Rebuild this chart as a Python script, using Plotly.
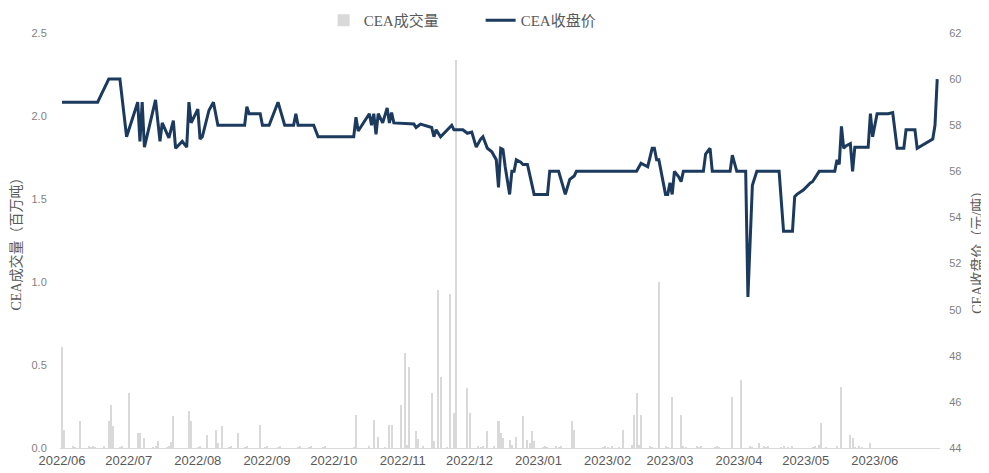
import plotly.graph_objects as go

# ---------------- data ----------------
price_dates = [
    "2022-06-01", "2022-06-17", "2022-06-19", "2022-06-22", "2022-06-27", "2022-06-30",
    "2022-07-05", "2022-07-06", "2022-07-07", "2022-07-08", "2022-07-13", "2022-07-15", "2022-07-16",
    "2022-07-19", "2022-07-21", "2022-07-22", "2022-07-25", "2022-07-27", "2022-07-28", "2022-07-29",
    "2022-08-01", "2022-08-02", "2022-08-03", "2022-08-06", "2022-08-08", "2022-08-10", "2022-08-22",
    "2022-08-23", "2022-08-24", "2022-08-29", "2022-08-30",
    "2022-09-02", "2022-09-06", "2022-09-09", "2022-09-13", "2022-09-14", "2022-09-15", "2022-09-22", "2022-09-24",
    "2022-10-10", "2022-10-11", "2022-10-12", "2022-10-17", "2022-10-18", "2022-10-19", "2022-10-20",
    "2022-10-21", "2022-10-23", "2022-10-25", "2022-10-26", "2022-10-27", "2022-10-28",
    "2022-11-06", "2022-11-07", "2022-11-09", "2022-11-12", "2022-11-14", "2022-11-15", "2022-11-16",
    "2022-11-18", "2022-11-23", "2022-11-24", "2022-11-28", "2022-11-30",
    "2022-12-02", "2022-12-04", "2022-12-06", "2022-12-07", "2022-12-09", "2022-12-11", "2022-12-13",
    "2022-12-14", "2022-12-15", "2022-12-16", "2022-12-17", "2022-12-19", "2022-12-20", "2022-12-21",
    "2022-12-22", "2022-12-24", "2022-12-25", "2022-12-27", "2022-12-30",
    "2023-01-05", "2023-01-06", "2023-01-10", "2023-01-13", "2023-01-15", "2023-01-17", "2023-01-18",
    "2023-02-14", "2023-02-16", "2023-02-17", "2023-02-19", "2023-02-21", "2023-02-22", "2023-02-23",
    "2023-02-24", "2023-02-27", "2023-02-28",
    "2023-03-01", "2023-03-02", "2023-03-03", "2023-03-05", "2023-03-06", "2023-03-07", "2023-03-16",
    "2023-03-17", "2023-03-19", "2023-03-20", "2023-03-28", "2023-03-29", "2023-03-31",
    "2023-04-04", "2023-04-05", "2023-04-07", "2023-04-09", "2023-04-19", "2023-04-21", "2023-04-25",
    "2023-04-26", "2023-04-27", "2023-04-30",
    "2023-05-03", "2023-05-04", "2023-05-07", "2023-05-14", "2023-05-15", "2023-05-16", "2023-05-17",
    "2023-05-18", "2023-05-19", "2023-05-21", "2023-05-22", "2023-05-23", "2023-05-29", "2023-05-30", "2023-05-31",
    "2023-06-02", "2023-06-07", "2023-06-09", "2023-06-11", "2023-06-14", "2023-06-15", "2023-06-19",
    "2023-06-20", "2023-06-27", "2023-06-28", "2023-06-29",
]
price_values = [
    59.0, 59.0, 59.4, 60.0, 60.0, 57.5,
    59.0, 57.3, 59.0, 57.05, 59.1, 57.3, 58.1, 57.45, 58.2, 57.0, 57.3, 57.05, 59.0, 58.1,
    58.7, 57.4, 57.5, 58.65, 59.0, 58.0, 58.0, 58.8, 58.5, 58.5, 58.0,
    58.0, 59.0, 58.0, 58.0, 58.5, 58.0, 58.0, 57.5,
    57.5, 58.35, 57.75, 58.5, 58.0, 58.5, 57.6, 58.5, 58.1, 58.75, 58.1, 58.55, 58.1,
    58.05, 57.9, 58.05, 57.95, 57.9, 57.5, 57.8, 57.5, 58.0, 57.8, 57.8, 57.65,
    57.7, 57.05, 57.4, 57.5, 57.0, 56.85, 56.5, 55.3, 57.0, 56.95, 56.2, 55.0, 56.0, 56.0, 56.5, 56.4, 56.3, 56.3, 55.0,
    55.0, 56.0, 56.0, 55.0, 55.65, 55.8, 56.0,
    56.0, 56.35, 56.3, 56.2, 57.0, 57.0, 56.5, 56.5, 55.0, 55.0,
    55.5, 55.0, 56.0, 55.75, 55.55, 56.0, 56.0, 56.75, 57.0, 56.0, 56.0, 56.7, 56.0,
    56.0, 50.55, 55.4, 56.0, 56.0, 53.4, 53.4, 54.9, 55.0, 55.2,
    55.5, 55.55, 56.0, 56.0, 56.5, 56.3, 57.95, 57.0, 57.1, 57.2, 56.0, 57.05, 57.05, 58.5, 57.5,
    58.5, 58.5, 58.55, 57.0, 57.0, 57.8, 57.8, 57.0, 57.4, 58.0, 60.0,
]

volume_dates = [
    "2022-06-01", "2022-06-02", "2022-06-09", "2022-06-22", "2022-06-23", "2022-06-24",
    "2022-07-01", "2022-07-05", "2022-07-06", "2022-07-08", "2022-07-14", "2022-07-20", "2022-07-21",
    "2022-07-28", "2022-07-29",
    "2022-08-05", "2022-08-09", "2022-08-10", "2022-08-12", "2022-08-19", "2022-08-29",
    "2022-10-11", "2022-10-19", "2022-10-21", "2022-10-26", "2022-10-27", "2022-10-31",
    "2022-11-02", "2022-11-03", "2022-11-04", "2022-11-07", "2022-11-08", "2022-11-14", "2022-11-15",
    "2022-11-17", "2022-11-18", "2022-11-22", "2022-11-24", "2022-11-25", "2022-11-30",
    "2022-12-01", "2022-12-07", "2022-12-09", "2022-12-14", "2022-12-15", "2022-12-16", "2022-12-19",
    "2022-12-20", "2022-12-22", "2022-12-25", "2022-12-27", "2022-12-28", "2022-12-29", "2022-12-30",
    "2023-01-16", "2023-01-17",
    "2023-02-08", "2023-02-12", "2023-02-13", "2023-02-14", "2023-02-15", "2023-02-16", "2023-02-24",
    "2023-03-02", "2023-03-06", "2023-03-29",
    "2023-04-02", "2023-04-10",
    "2023-05-07", "2023-05-08", "2023-05-17", "2023-05-21", "2023-05-22", "2023-05-30",
]
volume_values = [
    0.61, 0.11, 0.16, 0.16, 0.26, 0.13,
    0.33, 0.09, 0.09, 0.06, 0.04, 0.035, 0.19, 0.22, 0.16,
    0.08, 0.11, 0.03, 0.13, 0.09, 0.14,
    0.20, 0.17, 0.065, 0.14, 0.14, 0.26,
    0.57, 0.02, 0.49, 0.10, 0.055, 0.33, 0.04, 0.95, 0.43, 0.93, 0.21, 2.34, 0.36,
    0.21, 0.015, 0.10, 0.16, 0.09, 0.06, 0.05, 0.02, 0.065, 0.19, 0.05, 0.03, 0.10, 0.04,
    0.16, 0.11,
    0.11, 0.02, 0.20, 0.33, 0.02, 0.20, 1.00,
    0.31, 0.20, 0.31,
    0.41, 0.03,
    0.02, 0.15, 0.37, 0.08, 0.06, 0.03,
]

small_volume_dates = [
    "2022-06-06", "2022-06-07", "2022-06-13", "2022-06-14", "2022-06-15", "2022-06-16", "2022-06-20",
    "2022-06-27", "2022-06-28", "2022-07-12", "2022-07-13", "2022-07-18", "2022-07-19", "2022-08-01",
    "2022-08-02", "2022-08-15", "2022-08-16", "2022-08-22", "2022-08-23", "2022-08-31", "2022-09-01",
    "2022-09-06", "2022-09-07", "2022-09-15", "2022-09-16", "2022-09-20", "2022-09-21", "2022-09-26",
    "2022-09-27", "2022-10-10", "2022-10-17", "2022-10-24", "2022-11-10", "2022-11-21", "2022-12-05",
    "2022-12-06", "2022-12-12", "2023-01-03", "2023-01-04", "2023-01-05", "2023-01-09", "2023-01-10",
    "2023-01-11", "2023-01-30", "2023-01-31", "2023-02-01", "2023-02-03", "2023-02-06", "2023-02-20",
    "2023-02-21", "2023-02-27", "2023-02-28", "2023-03-07", "2023-03-08", "2023-03-13", "2023-03-14",
    "2023-03-15", "2023-03-21", "2023-03-22", "2023-03-23", "2023-04-06", "2023-04-07", "2023-04-12",
    "2023-04-13", "2023-04-14", "2023-04-20", "2023-04-21", "2023-04-23", "2023-04-25", "2023-05-04",
    "2023-05-05", "2023-05-10", "2023-05-15", "2023-05-23", "2023-05-25", "2023-05-26",
]
small_volume_values = [
    0.008, 0.006, 0.008, 0.006, 0.008, 0.006, 0.008,
    0.006, 0.008, 0.006, 0.008, 0.006, 0.008, 0.006,
    0.008, 0.006, 0.008, 0.006, 0.008, 0.006, 0.008,
    0.006, 0.008, 0.006, 0.008, 0.006, 0.008, 0.006,
    0.008, 0.006, 0.008, 0.006, 0.008, 0.006, 0.008,
    0.006, 0.008, 0.006, 0.008, 0.006, 0.008, 0.006,
    0.008, 0.006, 0.008, 0.006, 0.008, 0.006, 0.008,
    0.006, 0.008, 0.006, 0.008, 0.006, 0.008, 0.006,
    0.008, 0.006, 0.008, 0.006, 0.008, 0.006, 0.008,
    0.006, 0.008, 0.006, 0.008, 0.006, 0.008, 0.006,
    0.008, 0.006, 0.008, 0.006, 0.008, 0.006,
]

volume_name = "CEA成交量"
price_name = "CEA收盘价"
left_title = "CEA成交量（百万吨）"
right_title = "CEA收盘价（元/吨）"

# ---------------- figure ----------------
serif = "Liberation Serif, Noto Sans CJK SC, serif"
sans = "Liberation Sans, Arial, sans-serif"
grey = "#595959"
DAY_MS = 86400000

fig = go.Figure()
fig.add_trace(go.Bar(
    x=volume_dates + small_volume_dates,
    y=volume_values + small_volume_values,
    name=volume_name,
    marker=dict(color="#D9D9D9", line=dict(width=0)),
    width=0.9 * DAY_MS,
    yaxis="y",
))
fig.add_trace(go.Scatter(
    x=price_dates, y=price_values, name=price_name, mode="lines",
    line=dict(color="#1B3A5E", width=3),
    yaxis="y2",
))

# the page body adds an 8px offset, so the figure is 981x465
fig.update_layout(
    width=981, height=465,
    margin=dict(l=52, r=49, t=25, b=25, autoexpand=False),
    paper_bgcolor="white", plot_bgcolor="white",
    bargap=0,
    showlegend=True,
    legend=dict(orientation="h", x=0.478, xanchor="center", y=1.03, yanchor="middle",
                font=dict(family=serif, size=15, color=grey), itemwidth=30,
                entrywidth=112, entrywidthmode="pixels",
                traceorder="normal"),
    xaxis=dict(
        type="date",
        range=["2022-05-31 02:24", "2023-06-30 06:00"],
        tick0="2022-06-01", dtick="M1", tickformat="%Y/%m",
        showgrid=False, zeroline=False,
        showline=True, linecolor="#D9D9D9", linewidth=1,
        ticks="", tickfont=dict(family=sans, size=13, color=grey),
    ),
    yaxis=dict(
        range=[0, 2.5], dtick=0.5, tickformat=".1f",
        showgrid=False, zeroline=False, showline=False,
        ticks="outside", ticklen=10, tickcolor="rgba(0,0,0,0)",
        tickfont=dict(family=sans, size=11, color="#7F7F7F"),
        title=dict(text=left_title, font=dict(family=serif, size=14, color=grey), standoff=13),
    ),
    yaxis2=dict(
        range=[44, 62], dtick=2, overlaying="y", side="right",
        showgrid=False, zeroline=False, showline=False,
        ticks="outside", ticklen=6, tickcolor="rgba(0,0,0,0)",
        tickfont=dict(family=sans, size=11, color="#7F7F7F"),
    ),
    annotations=[dict(
        text=right_title, textangle=-90, xref="paper", yref="paper",
        x=1.042, y=0.48, xanchor="center", yanchor="middle", showarrow=False,
        font=dict(family=serif, size=14, color=grey),
    )],
)

fig.write_html("out.html")
